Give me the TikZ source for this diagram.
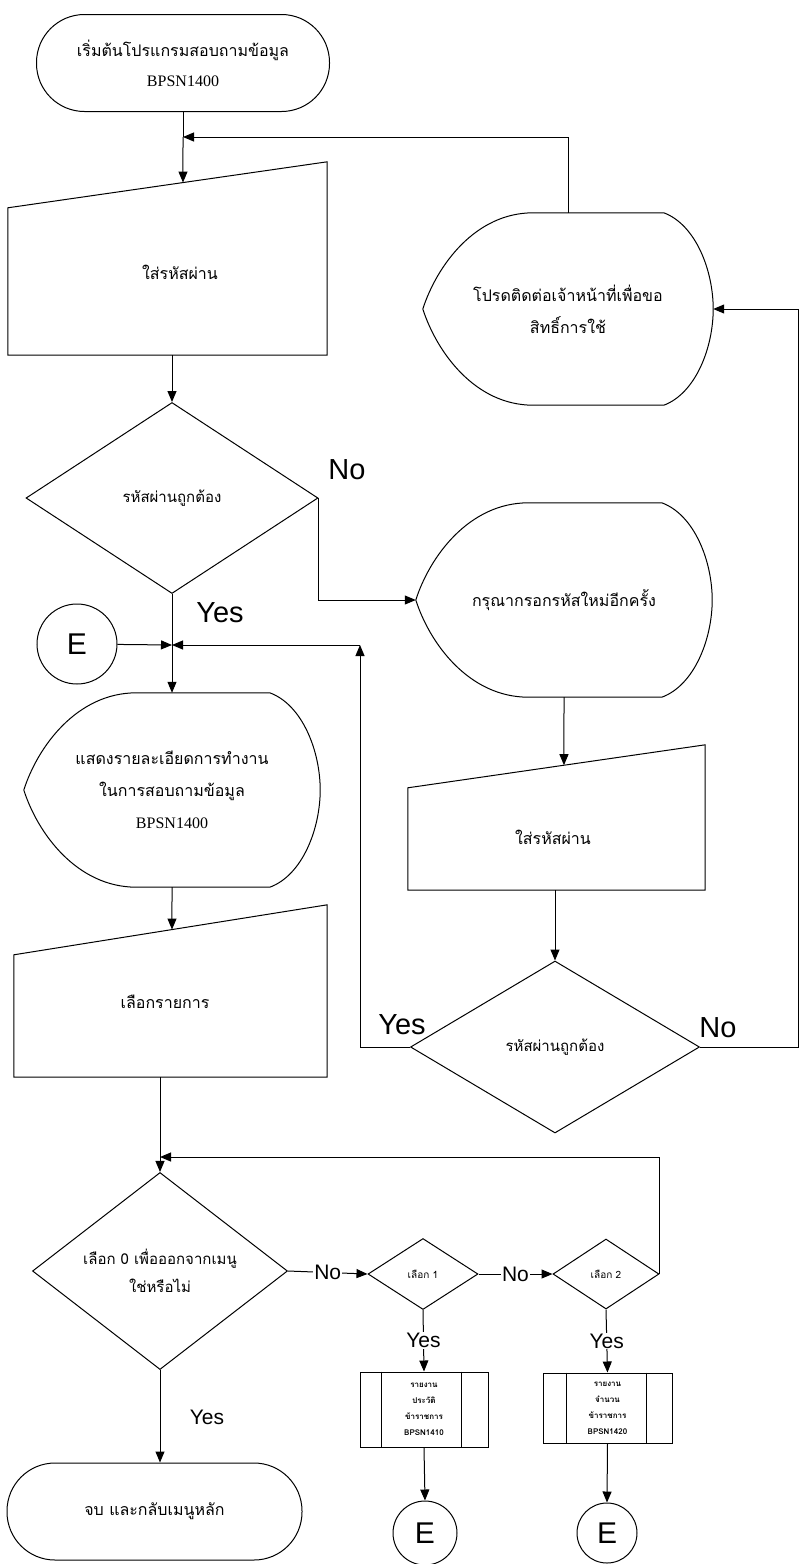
\documentclass[tikz,border=0pt]{standalone}
\usepackage{fontspec}
\setmainfont{Liberation Sans}
\newfontfamily\thaifont[Script=Thai]{Loma}
\newfontfamily\romanfont{Liberation Serif}
\usetikzlibrary{shapes.geometric, arrows.meta, calc}
\tikzstyle{terminal} = [rectangle, rounded corners=48pt,
minimum width=293pt,
minimum height=97pt,
align=center,
draw=black, line width=1pt,
font=\thaifont\fontsize{16}{30}\selectfont]
\tikzstyle{decision} = [diamond, draw=black, line width=1pt, inner sep=0pt,
align=center, font=\thaifont\fontsize{15}{28}\selectfont]
\tikzstyle{dispbox} = [rectangle, minimum width=296pt, minimum height=194pt,
align=center, font=\thaifont\fontsize{16}{32}\selectfont]
\tikzstyle{inbox} = [rectangle, inner sep=0pt]
\tikzstyle{thaitext} = [font=\thaifont\fontsize{16}{30}\selectfont]
\tikzstyle{subbox} = [rectangle, draw=black, line width=1pt, align=center,
font=\thaifont\bfseries\fontsize{8}{16}\selectfont]
\tikzstyle{conn} = [circle, draw=black, line width=1pt, inner sep=0pt,
font=\fontsize{30}{30}\selectfont]
\tikzstyle{biglabel} = [font=\fontsize{29}{29}\selectfont]
\tikzstyle{smalllabel} = [font=\fontsize{21}{21}\selectfont, inner sep=1pt]
\tikzstyle{flowline} = [line width=1pt]
\tikzstyle{arrow} = [line width=1pt,-{Triangle[length=11pt,width=9pt]}]
% manual input: slanted top, #2 = drop of the top left corner
\newcommand{\manualin}[2]{%
  \coordinate (#1-tl) at ([yshift=-#2]#1.north west);
  \draw[flowline] (#1.south west) -- (#1.south east) -- (#1.north east) -- (#1-tl) -- cycle;}
% display: pointed left side, round right side
\newcommand{\dispshape}[1]{%
  \draw[flowline] ($(#1.north west)!0.38!(#1.north east)$) -- ($(#1.north west)!0.83!(#1.north east)$)
    .. controls ($(#1.north west)!0.94!(#1.north east)+(0,12)$) and ($(#1.east)!0.4!(#1.north east)$) .. (#1.east)
    .. controls ($(#1.east)!0.4!(#1.south east)$) and ($(#1.south west)!0.94!(#1.south east)+(0,-12)$) .. ($(#1.south west)!0.83!(#1.south east)$)
    -- ($(#1.south west)!0.38!(#1.south east)$)
    .. controls ($(#1.south west)!0.18!(#1.south east)$) and ($(#1.west)!0.45!(#1.south west)+(14,0)$) .. (#1.west)
    .. controls ($(#1.west)!0.45!(#1.north west)+(14,0)$) and ($(#1.north west)!0.18!(#1.north east)$) .. cycle;}
\begin{document}
\begin{tikzpicture}[x=1pt, y=-1pt]
    \useasboundingbox (0,0) rectangle (804,1564);
    % left column
    \node (start) [terminal] at (183,63) {เริ่มต้นโปรแกรมสอบถามข้อมูล\\{\romanfont BPSN1400}};
    \node (pw1) [inbox, minimum width=319pt, minimum height=193pt] at (167.5,258.5) {};
    \node (pw1t) [thaitext] at (180,272) {ใส่รหัสผ่าน};
    \node (chk1) [decision, minimum width=292pt, minimum height=191pt] at (172,498) {รหัสผ่านถูกต้อง};
    \node (eL) [conn, minimum size=80pt] at (77,644) {E};
    \coordinate (j1) at (172,645);
    \node (info) [dispbox] at (172,790) {แสดงรายละเอียดการทำงาน\\ในการสอบถามข้อมูล\\{\romanfont BPSN1400}};
    \node (menu) [inbox, minimum width=313pt, minimum height=172pt] at (170.5,991) {};
    \node (menut) [thaitext] at (165,1002) {เลือกรายการ};
    \coordinate (j2) at (160,1157);
    \node (ch0) [decision, minimum width=255pt, minimum height=186pt] at (160,1271) {เลือก 0 เพื่อออกจากเมนู\\ใช่หรือไม่};
    \node (stop) [terminal, minimum width=295pt] at (154.5,1511.5) {จบ และกลับเมนูหลัก};
    % right column
    \node (ask) [dispbox, minimum width=290pt, minimum height=192pt] at (568,309) {โปรดติดต่อเจ้าหน้าที่เพื่อขอ\\สิทธิ์การใช้};
    \node (retry) [dispbox] at (564,600) {กรุณากรอกรหัสใหม่อีกครั้ง};
    \node (pw2) [inbox, minimum width=297pt, minimum height=145pt] at (556.5,817.5) {};
    \node (pw2t) [thaitext] at (553,837) {ใส่รหัสผ่าน};
    \node (chk2) [decision, minimum width=289pt, minimum height=172pt] at (555,1047) {รหัสผ่านถูกต้อง};
    % menu choices
    \node (ch1) [decision, minimum width=110pt, minimum height=71pt, font=\thaifont\fontsize{10}{12}\selectfont] at (423,1274) {เลือก 1};
    \node (ch2) [decision, minimum width=106pt, minimum height=70pt, font=\thaifont\fontsize{10}{12}\selectfont] at (606,1274) {เลือก 2};
    \node (rep1) [subbox, minimum width=128pt, minimum height=75pt] at (424,1409.5) {รายงาน\\ประวัติ\\ข้าราชการ\\BPSN1410};
    \node (rep2) [subbox, minimum width=129pt, minimum height=70pt] at (607.5,1408) {รายงาน\\จำนวน\\ข้าราชการ\\BPSN1420};
    \node (e1) [conn, minimum size=64pt] at (425,1533) {E};
    \node (e2) [conn, minimum size=60pt] at (607,1533) {E};
    % outlines
    \manualin{pw1}{46pt}
    \manualin{pw2}{43pt}
    \manualin{menu}{50pt}
    \dispshape{ask}
    \dispshape{retry}
    \dispshape{info}
    \draw[flowline] ([xshift=22pt]rep1.north west) -- ([xshift=22pt]rep1.south west);
    \draw[flowline] ([xshift=-27pt]rep1.north east) -- ([xshift=-27pt]rep1.south east);
    \draw[flowline] ([xshift=24pt]rep2.north west) -- ([xshift=24pt]rep2.south west);
    \draw[flowline] ([xshift=-26pt]rep2.north east) -- ([xshift=-26pt]rep2.south east);
    % connectors
    \coordinate (j0) at (183,137);
    \coordinate (a1) at (183,300);
    \coordinate (a2) at (retry.south |- pw2.south);
    \coordinate (a3) at (info.south |- menu.south);
    \coordinate (j3) at (360,645);
    \draw[flowline] (start.south) -- (j0);
    \draw[arrow] (j0) -- (intersection of j0--a1 and pw1-tl--pw1.north east);
    \draw[arrow] (ask.north) |- (j0);
    \draw[arrow] (chk1.north |- pw1.south) -- (chk1.north);
    \draw[arrow] (chk1.east) |- (retry.west);
    \draw[flowline] (chk1.south) -- (j1);
    \draw[arrow] (eL) -- (j1);
    \draw[arrow] (j1) -- (info.north);
    \draw[arrow] (retry.south) -- (intersection of retry.south--a2 and pw2-tl--pw2.north east);
    \draw[arrow] (chk2.north |- pw2.south) -- (chk2.north);
    \draw[arrow] (chk2.west) -| (j3);
    \draw[arrow] (j3) -- (j1);
    \draw[arrow] (chk2.east) -- ++(98,0) |- (ask.east);
    \draw[arrow] (info.south) -- (intersection of info.south--a3 and menu-tl--menu.north east);
    \draw[flowline] (j2 |- menu.south) -- (j2);
    \draw[arrow] (j2) -- (ch0.north);
    \draw[arrow] (ch2.east) |- (j2);
    \draw[arrow] (ch0.east) -- node[smalllabel, fill=white] {No} (ch1.west);
    \draw[arrow] (ch1.east) -- node[smalllabel, fill=white] {No} (ch2.west);
    \draw[arrow] (ch1.south) -- node[smalllabel, fill=white] {Yes} (rep1.north);
    \draw[arrow] (ch2.south) -- node[smalllabel, fill=white] {Yes} (rep2.north);
    \draw[arrow] (rep1.south) -- (e1.north);
    \draw[arrow] (rep2.south) -- (e2.north);
    \draw[arrow] (ch0.south) -- (ch0.south |- stop.north);
    % branch labels
    \node (no1) [biglabel] at (347,470) {No};
    \node (yes1) [biglabel] at (220,613) {Yes};
    \node (yes2) [biglabel] at (402,1025) {Yes};
    \node (no2) [biglabel] at (718,1028) {No};
    \node (yes3) [smalllabel] at (207,1417) {Yes};
\end{tikzpicture}
\end{document}
